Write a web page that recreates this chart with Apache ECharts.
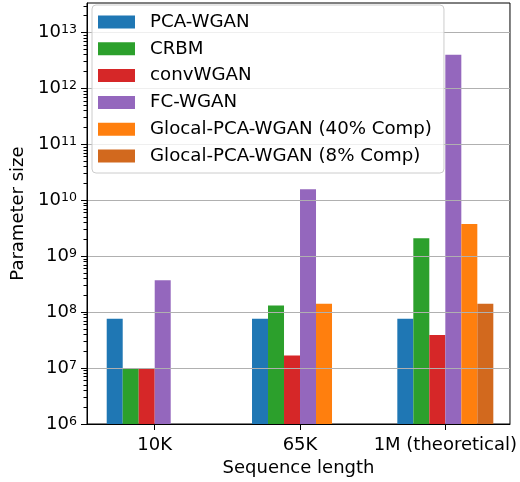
<!DOCTYPE html>
<html>
<head>
<meta charset="utf-8">
<script src="https://cdn.jsdelivr.net/npm/echarts@6/dist/echarts.min.js"></script>
<style>
html,body{margin:0;padding:0;background:#fff;}
#chart{width:520px;height:482px;}
</style>
</head>
<body>
<div id="chart"></div>
<script>
// ---- data ----
const categories = ['10K', '65K', '1M (theoretical)'];
const seriesNames = ['PCA-WGAN', 'CRBM', 'convWGAN', 'FC-WGAN', 'Glocal-PCA-WGAN (40% Comp)', 'Glocal-PCA-WGAN (8% Comp)'];
const pcaWgan  = [7.6e7, 7.6e7, 7.6e7];
const crbm     = [1.0e7, 1.31e8, 2.09e9];
const convWgan = [1.0e7, 1.68e7, 3.9e7];
const fcWgan   = [3.7e8, 1.57e10, 4.0e12];
const glocal40 = [null, 1.41e8, 3.75e9];
const glocal8  = [null, null, 1.41e8];
const majorTicks = [1e6, 1e7, 1e8, 1e9, 1e10, 1e11, 1e12, 1e13];

const colors = ['#1f77b4', '#2ca02c', '#d62728', '#9467bd', '#ff7f0e', '#d2691e'];
const allValues = [pcaWgan, crbm, convWgan, fcWgan, glocal40, glocal8];

const minorTicks = [];
for (let e = 6; e <= 13; e++) {
  for (let m = 2; m <= 9; m++) minorTicks.push(m * Math.pow(10, e));
}

const FONT = 'DejaVu Sans';
const yMin = 1e6, yMax = Math.pow(10, 13.527);

const series = seriesNames.map((name, i) => ({
  name: name,
  type: 'bar',
  xAxisIndex: 0,
  yAxisIndex: 0,
  barWidth: 16,
  barGap: '0%',
  itemStyle: { color: colors[i] },
  data: allValues[i].map((v, k) => [k, v]).filter(d => d[1] != null),
  clip: true
}));

const chart = echarts.init(document.getElementById('chart'), null, { renderer: 'canvas' });
chart.setOption({
  animation: false,
  textStyle: { fontFamily: FONT },
  grid: {
    left: 87, right: 8, top: 3, bottom: 55,
    show: true, borderColor: '#000', borderWidth: 1, backgroundColor: 'transparent'
  },
  legend: {
    orient: 'vertical',
    left: 92, top: 5,
    z: 10,
    padding: [8, 12, 8, 6],
    itemGap: 8.8,
    itemWidth: 37, itemHeight: 13,
    icon: 'rect',
    backgroundColor: 'rgba(255,255,255,0.8)',
    borderColor: '#cccccc', borderWidth: 1, borderRadius: 4,
    textStyle: { fontFamily: FONT, fontSize: 18.2, color: '#000', lineHeight: 18, padding: [0, 0, 0, 10] },
    data: seriesNames
  },
  xAxis: [{
    type: 'value',
    min: -0.466, max: 2.445,
    z: 5,
    name: 'Sequence length',
    nameLocation: 'middle',
    nameGap: 35,
    nameTextStyle: { fontFamily: FONT, fontSize: 18, color: '#000' },
    axisLine: { show: true, onZero: false, lineStyle: { color: '#000', width: 1 } },
    axisTick: { show: true, customValues: [0, 1, 2], length: 6, lineStyle: { color: '#000' } },
    axisLabel: {
      customValues: [0, 1, 2],
      margin: 12,
      fontFamily: FONT, fontSize: 18, color: '#000',
      formatter: v => categories[Math.round(v)]
    },
    splitLine: { show: false }
  }],
  yAxis: [{
    type: 'log',
    logBase: 10,
    min: yMin, max: yMax,
    interval: 1,
    z: 5,
    name: 'Parameter size',
    nameLocation: 'middle',
    nameGap: 56,
    nameTextStyle: { fontFamily: FONT, fontSize: 18, color: '#000' },
    axisLine: { show: true, onZero: false, lineStyle: { color: '#000', width: 1 } },
    axisTick: { show: true, customValues: majorTicks, length: 6, lineStyle: { color: '#000' } },
    axisLabel: {
      customValues: majorTicks,
      margin: 10,
      color: '#000',
      fontFamily: FONT, fontSize: 18, lineHeight: 18,
      formatter: v => '10{sup|' + Math.round(Math.log10(v)) + '}',
      rich: {
        sup: { fontFamily: FONT, fontSize: 12.6, lineHeight: 12, verticalAlign: 'top', padding: [0, 0, 6, 0], color: '#000' }
      }
    },
    splitLine: { show: true, lineStyle: { color: '#b0b0b0', width: 1.2 } }
  }, {
    type: 'log',
    logBase: 10,
    min: yMin, max: yMax,
    position: 'left', offset: 0,
    z: 5,
    axisLine: { show: false, onZero: false },
    axisTick: { show: true, customValues: minorTicks, length: 3.5, lineStyle: { color: '#000' } },
    axisLabel: { show: false },
    splitLine: { show: false }
  }],
  series: series
});
</script>
</body>
</html>
